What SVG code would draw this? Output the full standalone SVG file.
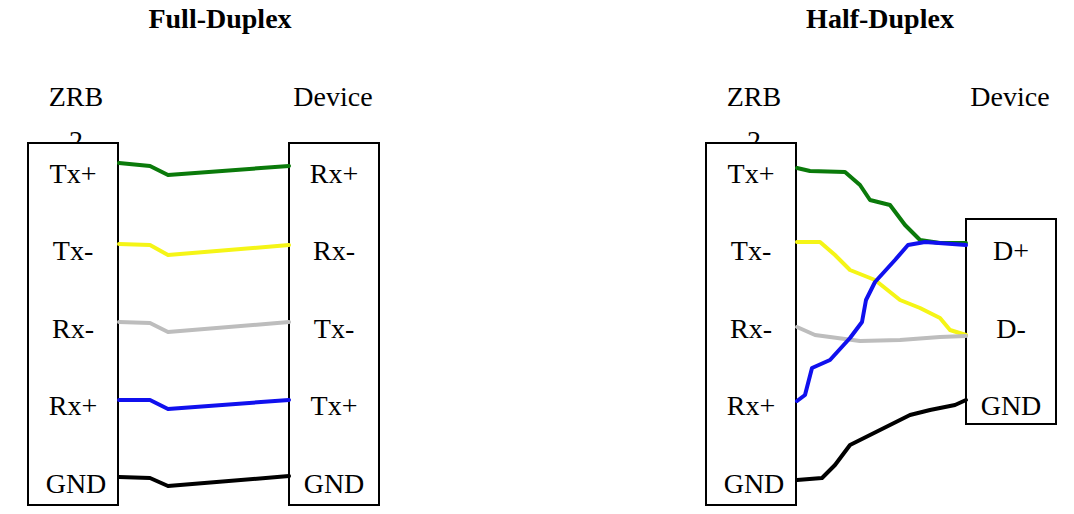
<svg xmlns="http://www.w3.org/2000/svg" width="1074" height="514" viewBox="0 0 1074 514">
<style>
text{font-family:"Liberation Serif",serif;font-size:28px;fill:#000}
.t{font-weight:bold;text-anchor:middle}
.box{fill:#fff;stroke:#000;stroke-width:2}
.w{fill:none;stroke-width:4;stroke-linecap:round;stroke-linejoin:round}
.m{text-anchor:middle}
</style>
<rect width="1074" height="514" fill="#fff"/>
<text class="t" x="220" y="28">Full-Duplex</text>
<text class="t" x="880" y="28">Half-Duplex</text>
<text class="m" x="76" y="106">ZRB</text>
<text class="m" x="76" y="150">2</text>
<text class="m" x="333" y="106">Device</text>
<text class="m" x="754" y="106">ZRB</text>
<text class="m" x="754" y="150">2</text>
<text class="m" x="1010" y="106">Device</text>
<g id="zrb-full"><rect class="box" x="28" y="143" width="90" height="362"/>
<text class="m" x="73" y="183">Tx+</text><text class="m" x="73" y="260">Tx-</text><text class="m" x="73" y="338">Rx-</text><text class="m" x="73" y="415">Rx+</text><text class="m" x="76" y="493">GND</text></g>
<g id="dev-full"><rect class="box" x="289" y="143" width="90" height="362"/>
<text class="m" x="334" y="183">Rx+</text><text class="m" x="334" y="260">Rx-</text><text class="m" x="334" y="338">Tx-</text><text class="m" x="334" y="415">Tx+</text><text class="m" x="334" y="493">GND</text></g>
<g id="zrb-half"><rect class="box" x="706" y="143" width="90" height="362"/>
<text class="m" x="751" y="183">Tx+</text><text class="m" x="751" y="260">Tx-</text><text class="m" x="751" y="338">Rx-</text><text class="m" x="751" y="415">Rx+</text><text class="m" x="754" y="493">GND</text></g>
<g id="dev-half"><rect class="box" x="966" y="219" width="90" height="205"/>
<text class="m" x="1011" y="260">D+</text><text class="m" x="1011" y="338">D-</text><text class="m" x="1011" y="415">GND</text></g>
<g id="connectors">
<path class="w" stroke="#0a7a0a" d="M119,163 L150,166 L168,175 L289,166"/>
<path class="w" stroke="#f5f516" d="M119,244 L150,245 L168,255 L289,245"/>
<path class="w" stroke="#bdbdbd" d="M119,322 L150,323 L168,332 L289,322"/>
<path class="w" stroke="#1010ee" d="M119,400 L150,400 L168,409 L289,400"/>
<path class="w" stroke="#000" d="M119,477 L150,478 L168,486 L289,476"/>
<path class="w" stroke="#0a7a0a" d="M797,168 L810,171 L845,172 L860,185 L870,200 L890,205 L905,225 L920,240 L940,243 L966,243"/>
<path class="w" stroke="#f5f516" d="M797,242 L820,242 L835,255 L850,270 L875,280 L900,300 L920,308 L940,318 L950,330 L966,335"/>
<path class="w" stroke="#bdbdbd" d="M797,327 L815,335 L860,341 L900,340 L940,337 L966,336"/>
<path class="w" stroke="#1010ee" d="M797,401 L805,395 L812,368 L830,360 L850,338 L862,322 L866,300 L875,282 L895,260 L908,245 L925,242 L966,245"/>
<path class="w" stroke="#000" d="M797,480 L822,478 L835,465 L850,445 L870,435 L890,425 L910,415 L930,410 L955,405 L966,400"/>
</g>
</svg>
